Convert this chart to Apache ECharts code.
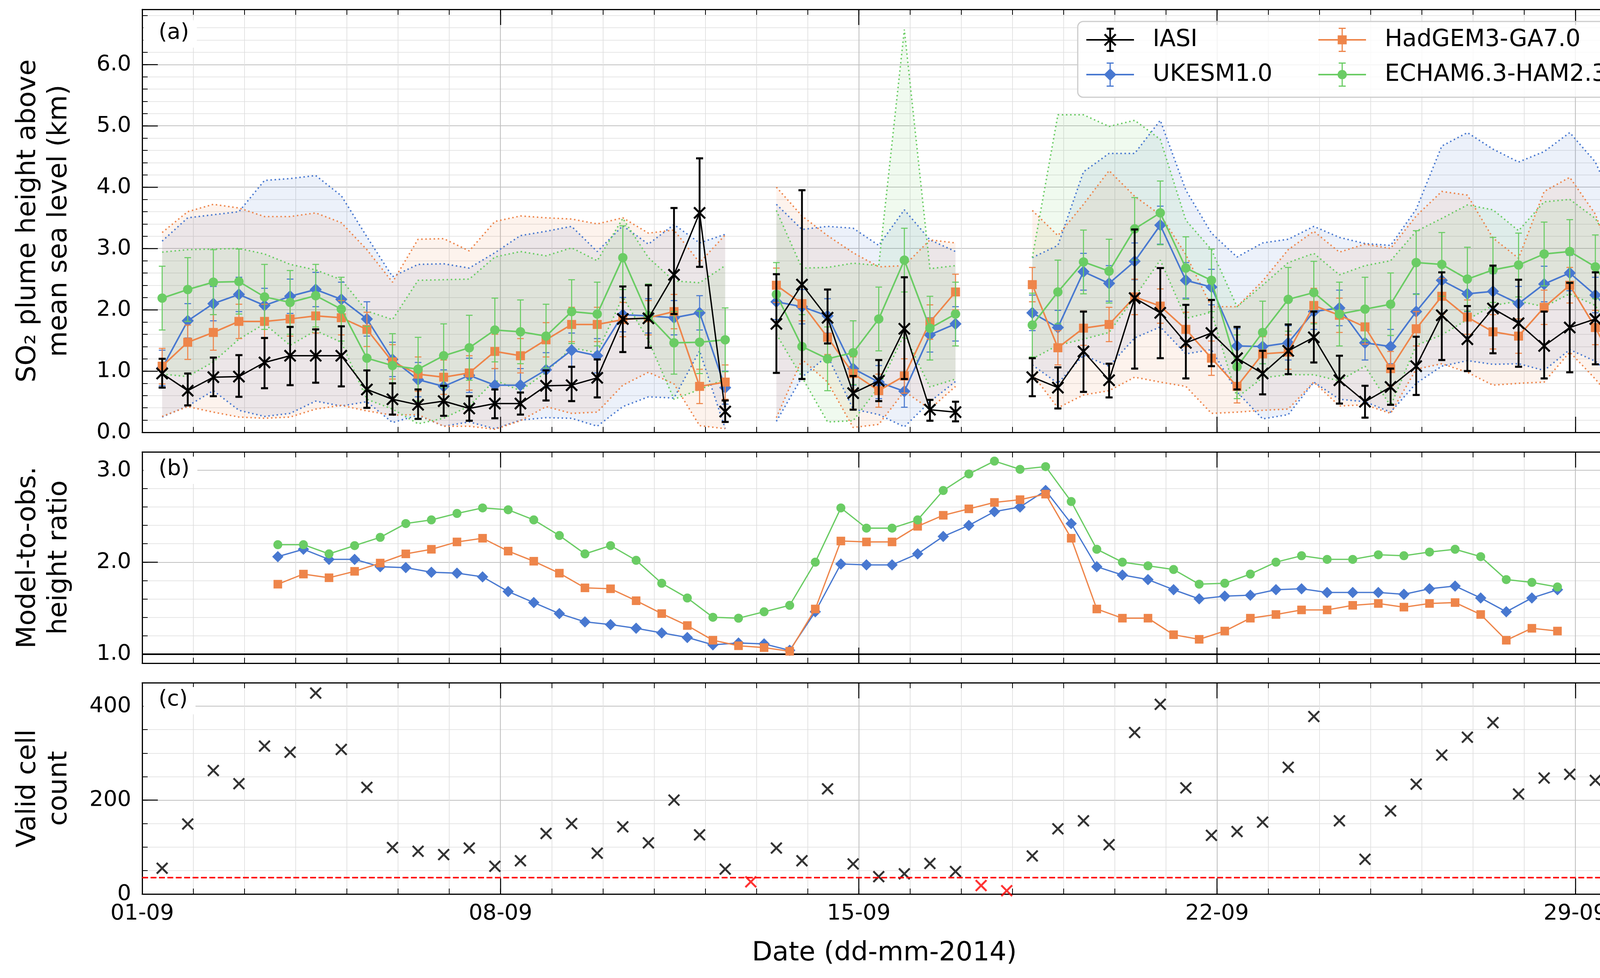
<!DOCTYPE html>
<html><head><meta charset="utf-8">
<script src="https://cdn.jsdelivr.net/npm/echarts@6/dist/echarts.min.js"></script>
<style>html,body{margin:0;padding:0;background:#fff;}#c{width:4202px;height:2504px;}</style>
</head><body><div id="c"></div>
<script>
// ---------------- DATA ----------------
// time of each IASI overpass, in days since 01-09-2014 00:00
const obsTimes = [0.39,0.89,1.39,1.89,2.39,2.89,3.39,3.89,4.39,4.89,5.39,5.89,6.39,6.89,7.39,7.89,8.39,8.89,9.39,9.89,
  10.39,10.89,11.39,11.89,12.39,12.89,13.39,13.89,14.39,14.89,15.39,15.89,16.39,16.89,17.39,17.89,18.39,18.89,19.39,19.89,
  20.39,20.89,21.39,21.89,22.39,22.89,23.39,23.89,24.39,24.89,25.39,25.89,26.39,26.89,27.39,27.89,28.39,28.89];
// times of the ratio points (panel b)
const ratioTimes = [2.65,3.15,3.65,4.15,4.65,5.15,5.65,6.15,6.65,7.15,7.65,8.15,8.65,9.15,9.65,10.15,10.65,11.15,11.65,12.15,
  12.65,13.15,13.65,14.15,14.65,15.15,15.65,16.15,16.65,17.15,17.65,18.15,18.65,19.15,19.65,20.15,20.65,21.15,21.65,22.15,
  22.65,23.15,23.65,24.15,24.65,25.15,25.65,26.15,26.65,27.15,27.65];
const tickLabels = ['01-09','08-09','15-09','22-09','29-09'];

// panel (a): IASI
const iasiHeight = [0.96,0.68,0.90,0.91,1.14,1.25,1.25,1.25,0.70,0.54, 0.45,0.51,0.39,0.47,0.47,0.76,0.77,0.89,1.85,1.86,
  2.57,3.58,0.34,null,1.77,2.41,1.87,0.64,0.84,1.69, 0.37,0.33,null,null,0.90,0.73,1.32,0.85,2.19,1.95,
  1.46,1.62,1.21,0.96,1.33,1.55,0.85,0.50,0.74,1.08, 1.91,1.52,2.02,1.78,1.41,1.71,1.85,1.38];
const iasiLow = [0.73,0.44,0.59,0.58,0.72,0.77,0.81,0.75,0.40,0.29, 0.22,0.27,0.19,0.23,0.29,0.52,0.51,0.57,1.31,1.38,
  1.93,2.70,0.17,null,0.97,0.87,1.45,0.37,0.51,0.87, 0.19,0.18,null,null,0.59,0.39,0.66,0.57,1.04,1.21,
  0.88,1.08,0.70,0.62,0.95,1.14,0.47,0.24,0.45,0.61, 1.18,1.00,1.29,1.07,0.88,0.98,1.11,0.06];
const iasiHigh = [1.20,0.96,1.22,1.26,1.54,1.72,1.68,1.73,1.01,0.80, 0.70,0.76,0.59,0.70,0.65,1.01,1.07,1.19,2.38,2.40,
  3.66,4.47,0.52,null,2.58,3.95,2.33,0.92,1.18,2.53, 0.53,0.50,null,null,1.21,1.06,1.97,1.12,3.31,2.68,
  2.08,2.16,1.72,1.33,1.76,1.97,1.25,0.76,1.04,1.56, 2.61,2.06,2.72,2.49,1.97,2.44,2.61,2.76];

// panel (a): UKESM1.0
const ukMean = [1.05,1.82,2.10,2.25,2.07,2.22,2.33,2.17,1.85,1.19, 0.86,0.75,0.93,0.77,0.77,1.02,1.34,1.25,1.92,1.90,
  1.87,1.95,0.73,null,2.13,2.05,1.90,1.04,0.82,0.67, 1.59,1.77,null,null,1.95,1.71,2.62,2.43,2.79,3.38,
  2.48,2.37,1.41,1.40,1.46,1.97,2.03,1.46,1.40,1.97, 2.48,2.26,2.30,2.10,2.42,2.60,2.24,1.78];
const ukErr = [0.29,0.28,0.28,0.28,0.28,0.28,0.28,0.28,0.28,0.28, 0.28,0.27,0.28,0.27,0.27,0.28,0.28,0.28,0.28,0.28,
  0.28,0.28,0.27,null,0.29,0.28,0.28,0.27,0.27,0.26, 0.28,0.28,null,null,0.29,0.28,0.30,0.29,0.30,0.31,
  0.29,0.29,0.28,0.28,0.28,0.29,0.29,0.28,0.28,0.29, 0.29,0.29,0.29,0.28,0.29,0.29,0.29,0.28];
const ukUpper = [3.12,3.50,3.55,3.60,4.11,4.14,4.19,3.86,3.19,2.54, 2.74,2.75,2.68,2.93,3.21,3.28,3.36,2.95,3.37,3.07,
  3.39,3.09,3.23,null,3.72,3.31,3.36,3.33,3.05,3.63, 3.14,2.95,null,null,2.85,3.05,4.25,4.55,4.55,5.09,
  3.95,3.25,2.86,3.09,3.15,3.36,3.18,3.08,3.05,3.64, 4.67,4.89,4.62,4.41,4.58,4.89,4.41,3.49];
const ukLower = [0.25,0.43,0.68,0.36,0.26,0.31,0.51,0.43,0.50,0.16, 0.28,0.10,0.17,0.06,0.20,0.24,0.23,0.10,0.42,0.58,
  0.56,1.33,0.06,null,0.18,0.90,1.25,0.38,0.29,0.09, 0.50,0.83,null,null,1.10,0.80,1.26,1.08,1.54,1.72,
  1.28,1.35,0.66,0.22,0.29,0.82,0.54,0.50,0.33,0.80, 1.08,1.17,1.11,1.12,1.01,1.35,1.16,0.80];

// panel (a): HadGEM3-GA7.0
const hadMean = [1.08,1.47,1.63,1.81,1.81,1.85,1.90,1.87,1.68,1.15, 0.95,0.90,0.97,1.32,1.25,1.51,1.76,1.76,1.84,1.87,
  1.97,0.75,0.82,null,2.40,2.10,1.55,0.96,0.68,0.92, 1.80,2.29,null,null,2.41,1.38,1.70,1.76,2.21,2.06,
  1.68,1.21,0.75,1.28,1.31,2.07,1.91,1.72,1.04,1.69, 2.22,1.88,1.64,1.57,2.04,2.40,1.71,0.91];
const hadErr = [0.29,0.28,0.29,0.28,0.28,0.28,0.28,0.28,0.28,0.28, 0.28,0.28,0.28,0.28,0.28,0.28,0.28,0.28,0.28,0.28,
  0.28,0.28,0.28,null,0.28,0.28,0.28,0.27,0.27,0.28, 0.28,0.29,null,null,0.28,0.28,0.28,0.28,0.29,0.28,
  0.28,0.28,0.27,0.28,0.28,0.28,0.28,0.28,0.28,0.28, 0.29,0.28,0.28,0.28,0.28,0.29,0.28,0.28];
const hadUpper = [3.26,3.60,3.72,3.66,3.52,3.52,3.58,3.42,2.98,2.45, 3.15,3.16,2.96,3.44,3.53,3.50,3.48,3.40,3.50,3.25,
  3.30,2.77,3.22,null,4.00,3.53,3.21,2.93,2.70,2.72, 3.14,3.09,null,null,3.62,3.21,3.72,4.27,3.85,3.55,
  2.90,2.05,2.05,2.47,2.98,3.28,2.94,3.07,3.00,3.53, 3.93,3.87,3.17,2.84,3.93,4.16,3.56,2.42];
const hadLower = [0.26,0.42,0.33,0.25,0.23,0.25,0.38,0.44,0.35,0.28, 0.29,0.10,0.10,0.05,0.19,0.42,0.31,0.33,0.77,0.98,
  0.79,0.11,0.06,null,0.24,1.19,0.82,0.08,0.13,0.67, 0.38,0.75,null,null,0.95,0.40,0.61,0.68,0.90,0.82,
  0.75,0.31,0.33,0.36,0.38,0.82,0.43,0.45,0.31,1.03, 1.12,0.98,0.77,0.80,0.82,1.31,0.87,0.38];

// panel (a): ECHAM6.3-HAM2.3
const echamMean = [2.19,2.33,2.45,2.46,2.21,2.12,2.23,2.01,1.21,1.09, 1.03,1.25,1.38,1.67,1.64,1.57,1.97,1.93,2.85,1.90,
  1.46,1.47,1.51,null,2.25,1.40,1.20,1.30,1.85,2.81, 1.70,1.93,null,null,1.75,2.29,2.78,2.63,3.32,3.58,
  2.68,2.48,1.07,1.63,2.17,2.28,1.93,2.01,2.09,2.77, 2.74,2.50,2.65,2.73,2.91,2.95,2.70,2.06];
const echamErr = [0.52,0.52,0.53,0.53,0.53,0.52,0.51,0.52,0.52,0.52, 0.52,0.52,0.53,0.52,0.52,0.52,0.52,0.52,0.52,0.52,
  0.51,0.51,0.52,null,0.52,0.52,0.52,0.52,0.52,0.52, 0.52,0.52,null,null,0.52,0.52,0.52,0.52,0.51,0.52,
  0.51,0.51,0.52,0.51,0.52,0.51,0.52,0.52,0.51,0.52, 0.52,0.52,0.53,0.52,0.52,0.52,0.52,0.52];
const echamUpper = [2.94,2.98,2.99,3.00,2.91,2.74,2.65,2.49,1.98,1.84, 2.48,2.49,2.50,2.86,2.95,2.88,3.01,2.80,3.49,2.85,
  2.47,2.44,2.72,null,3.62,2.68,2.69,2.76,2.72,6.57, 2.67,2.72,null,null,2.85,5.18,5.18,4.99,5.09,4.78,
  3.46,2.98,2.05,2.40,2.77,2.92,2.57,2.72,2.80,3.28, 3.49,3.71,3.63,3.29,3.76,3.80,3.49,2.79];
const echamLower = [0.95,0.91,1.15,1.52,1.77,1.42,1.66,1.47,0.54,0.38, 0.14,0.23,0.43,0.85,0.68,0.98,1.38,1.30,2.21,1.50,
  0.54,0.70,0.87,null,1.60,0.90,0.17,0.19,0.74,1.60, 0.74,0.87,null,null,1.20,1.42,1.52,1.63,2.21,2.81,
  1.86,1.96,0.57,0.89,0.94,0.94,0.84,1.08,0.43,1.42, 1.59,1.84,2.07,2.14,2.05,2.26,2.07,1.31];

// panel (b): model-to-obs height ratio
const ukRatio = [2.06,2.14,2.03,2.03,1.95,1.94,1.89,1.88,1.84,1.68, 1.56,1.44,1.35,1.32,1.28,1.23,1.18,1.10,1.12,1.11,
  1.04,1.46,1.98,1.97,1.97,2.09,2.28,2.40,2.55,2.60, 2.78,2.42,1.95,1.86,1.81,1.70,1.60,1.63,1.64,1.70,
  1.71,1.67,1.67,1.67,1.65,1.71,1.74,1.61,1.46,1.61, 1.70];
const hadRatio = [1.76,1.87,1.83,1.90,1.99,2.09,2.14,2.22,2.26,2.12, 2.01,1.88,1.72,1.71,1.58,1.44,1.31,1.15,1.09,1.07,
  1.03,1.49,2.23,2.22,2.22,2.39,2.51,2.58,2.65,2.68, 2.74,2.26,1.49,1.39,1.39,1.21,1.16,1.25,1.39,1.43,
  1.48,1.48,1.53,1.55,1.51,1.55,1.56,1.43,1.15,1.28, 1.25];
const echamRatio = [2.19,2.19,2.09,2.18,2.27,2.42,2.46,2.53,2.59,2.57, 2.46,2.29,2.09,2.18,2.02,1.77,1.61,1.40,1.39,1.46,
  1.53,2.00,2.59,2.37,2.37,2.46,2.78,2.96,3.10,3.01, 3.04,2.66,2.14,2.00,1.96,1.92,1.76,1.77,1.87,2.00,
  2.07,2.03,2.03,2.08,2.07,2.11,2.14,2.06,1.81,1.78, 1.73];

// panel (c): valid cell count
const cellCount = [55,149,263,235,315,302,428,308,227,99, 91,84,98,59,71,129,150,87,143,109,
  200,126,53,26,98,71,224,64,37,43, 65,48,18,7,81,139,156,105,344,404,
  226,125,133,153,270,378,156,74,177,234, 296,334,365,213,247,255,242,75];
const countThreshold = 35;

// ---------------- STYLE ----------------
const FONT = 'DejaVu Sans';
const COL = {iasi:'#000000', uk:'#4878d0', had:'#ee854a', echam:'#6acc64'};
function rgba(hex, a){ const n=parseInt(hex.slice(1),16); return `rgba(${n>>16},${(n>>8)&255},${n&255},${a})`; }

function rectP(x,y,w,h){ return `M${x},${y}L${x+w},${y}L${x+w},${y+h}L${x},${y+h}Z`; }
function xP(cx,cy,r,d){
  const p=[[cx-r+d,cy-r],[cx,cy-d],[cx+r-d,cy-r],[cx+r,cy-r+d],[cx+d,cy],[cx+r,cy+r-d],[cx+r-d,cy+r],[cx,cy+d],[cx-r+d,cy+r],[cx-r,cy+r-d],[cx-d,cy],[cx-r,cy-r+d]];
  return 'M'+p.map(q=>q[0].toFixed(2)+','+q[1].toFixed(2)).join('L')+'Z';
}
function circP(cx,cy,r,n){
  const p=[]; for(let i=0;i<n;i++){ const a=-Math.PI/2+2*Math.PI*i/n; p.push((cx+r*Math.cos(a)).toFixed(2)+','+(cy+r*Math.sin(a)).toFixed(2)); }
  return 'M'+p.join('L')+'Z';
}
const X_SYMBOL = 'path://' + xP(50,50,50,11.3);
function legendIcon(marker, barW, capT){
  return 'path://' + rectP(0,29,122,4) + rectP(61-barW/2,0,barW,62) + rectP(52,0,18,capT) + rectP(52,62-capT,18,capT) + marker;
}
const ICON_IASI = legendIcon(xP(61,31,16,3.6), 4.7, 5);
const ICON_UK = legendIcon('M61,15L77,31L61,47L45,31Z', 3, 3);
const ICON_HAD = legendIcon(rectP(49.5,19.5,23,23), 3, 3);
const ICON_ECHAM = legendIcon(circP(61,31,12,24), 3, 3);

// ---------------- AXES ----------------
const gridDefs = [
  {left:364, right:38, top:24, height:1083},
  {left:364, right:38, top:1157, height:541},
  {left:364, right:38, top:1748, height:541}
];
const yDefs = [
  {min:0, max:6.9, major:1, minor:0.2, dec:1, name:'SO\u2082 plume height above\nmean sea level (km)'},
  {min:0.9, max:3.2, major:1, minor:0.2, dec:1, name:'Model-to-obs.\nheight ratio'},
  {min:0, max:450, major:200, minor:50, dec:0, name:'Valid cell\ncount'}
];
const MAJ_GRID = '#c0c0c0', MIN_GRID = '#dedede';
const isMult = (v, step) => Math.abs(v/step - Math.round(v/step)) < 1e-6;

const xAxes = [], yAxes = [];
gridDefs.forEach((g, gi) => {
  const baseX = {type:'value', gridIndex:gi, min:0, max:29, axisLine:{show:false, onZero:false}, axisLabel:{show:false}, splitLine:{show:false}};
  xAxes.push(Object.assign({}, baseX, {position:'bottom', minInterval:1, maxInterval:1,
    axisTick:{show:true, inside:true, length:14, lineStyle:{color:'#000', width:2}},
    splitLine:{show:true, lineStyle:{color:MIN_GRID, width:1.7}}}));
  xAxes.push(Object.assign({}, baseX, {position:'bottom', minInterval:7, maxInterval:7,
    axisLine:{show:true, onZero:false, lineStyle:{color:'#000', width:3}},
    axisTick:{show:true, inside:true, length:40, lineStyle:{color:'#000', width:2.5}},
    splitLine:{show:true, lineStyle:{color:MAJ_GRID, width:2.2}},
    axisLabel: gi===2 ? {show:true, margin:22, fontSize:56, fontFamily:FONT, color:'#000', showMaxLabel:false,
      formatter: v => { const i=Math.round(v/7); return (isMult(v,7) && tickLabels[i]) ? tickLabels[i] : ''; }} : {show:false},
    name: gi===2 ? 'Date (dd-mm-2014)' : '', nameLocation:'middle', nameGap:118,
    nameTextStyle:{fontSize:68, fontFamily:FONT, color:'#000'}}));
  xAxes.push(Object.assign({}, baseX, {position:'top', minInterval:1, maxInterval:1,
    axisTick:{show:true, inside:true, length:14, lineStyle:{color:'#000', width:2}}}));
  xAxes.push(Object.assign({}, baseX, {position:'top', minInterval:7, maxInterval:7,
    axisLine:{show:true, onZero:false, lineStyle:{color:'#000', width:3}},
    axisTick:{show:true, inside:true, length:40, lineStyle:{color:'#000', width:2.5}}}));

  const y = yDefs[gi];
  const baseY = {type:'value', gridIndex:gi, min:y.min, max:y.max, axisLine:{show:false, onZero:false}, axisLabel:{show:false}, splitLine:{show:false}};
  yAxes.push(Object.assign({}, baseY, {position:'left', minInterval:y.minor, maxInterval:y.minor,
    axisTick:{show:true, inside:true, length:14, lineStyle:{color:'#000', width:2}},
    splitLine:{show:true, lineStyle:{color:MIN_GRID, width:1.7}}}));
  yAxes.push(Object.assign({}, baseY, {position:'left', minInterval:y.major, maxInterval:y.major,
    axisLine:{show:true, onZero:false, lineStyle:{color:'#000', width:3}},
    axisTick:{show:true, inside:true, length:40, lineStyle:{color:'#000', width:2.5}},
    splitLine:{show:true, lineStyle:{color:MAJ_GRID, width:2.2}},
    axisLabel:{show:true, margin:28, fontSize:56, fontFamily:FONT, color:'#000', showMinLabel: y.min===0, showMaxLabel:false,
      formatter: v => isMult(v, y.major) ? v.toFixed(y.dec) : ''},
    name:y.name, nameLocation:'middle', nameRotate:90, nameGap:172,
    nameTextStyle:{fontSize:68, fontFamily:FONT, color:'#000', lineHeight:80}}));
  yAxes.push(Object.assign({}, baseY, {position:'right', minInterval:y.minor, maxInterval:y.minor,
    axisTick:{show:true, inside:true, length:14, lineStyle:{color:'#000', width:2}}}));
  yAxes.push(Object.assign({}, baseY, {position:'right', minInterval:y.major, maxInterval:y.major,
    axisLine:{show:true, onZero:false, lineStyle:{color:'#000', width:3}},
    axisTick:{show:true, inside:true, length:40, lineStyle:{color:'#000', width:2.5}}}));
});
const AX = gi => ({xAxisIndex:4*gi+1, yAxisIndex:4*gi+1});

// ---------------- SERIES ----------------
const pairs = (times, vals) => times.map((t,i) => [t, vals[i]==null ? '-' : vals[i]]);
function segments(vals){
  const s=[]; let st=null;
  vals.forEach((v,i)=>{
    if(v!=null && st===null) st=i;
    if(st!==null && (v==null || i===vals.length-1)){ s.push([st, v==null ? i-1 : i]); st=null; }
  });
  return s;
}
function bandSeries(up, lo, color){
  return Object.assign({type:'custom', z:1, silent:true, data:segments(up), encode:{x:0, y:1},
    renderItem:(p, api)=>{
      const s=api.value(0), e=api.value(1), pts=[];
      for(let k=s;k<=e;k++) pts.push(api.coord([obsTimes[k], up[k]]));
      for(let k=e;k>=s;k--) pts.push(api.coord([obsTimes[k], lo[k]]));
      return {type:'polygon', shape:{points:pts}, style:{fill:rgba(color,0.1)}};
    }}, AX(0));
}
function dottedSeries(vals, color){
  return Object.assign({type:'line', z:2, silent:true, data:pairs(obsTimes, vals), symbol:'none', showSymbol:false,
    connectNulls:false, lineStyle:{color, width:3.7, type:[3.7,6.9], cap:'butt'}}, AX(0));
}
function errSeries(lo, hi, color, lw, capW, capLw, z){
  const data=[]; obsTimes.forEach((t,k)=>{ if(lo[k]!=null && hi[k]!=null) data.push([t, lo[k], hi[k]]); });
  return Object.assign({type:'custom', z, silent:true, data, encode:{x:0, y:[1,2]},
    renderItem:(p, api)=>{
      const a=api.coord([api.value(0), api.value(1)]), b=api.coord([api.value(0), api.value(2)]);
      const st={stroke:color, lineWidth:lw}, cs={stroke:color, lineWidth:capLw};
      return {type:'group', children:[
        {type:'line', shape:{x1:a[0], y1:a[1], x2:b[0], y2:b[1]}, style:st},
        {type:'line', shape:{x1:a[0]-capW/2, y1:a[1], x2:a[0]+capW/2, y2:a[1]}, style:cs},
        {type:'line', shape:{x1:b[0]-capW/2, y1:b[1], x2:b[0]+capW/2, y2:b[1]}, style:cs}
      ]};
    }}, AX(0));
}
const lowOf = (m, e) => m.map((v,i)=> v==null ? null : v - e[i]);
const highOf = (m, e) => m.map((v,i)=> v==null ? null : v + e[i]);
function mainLine(name, vals, color, symbol, size, width, z){
  return Object.assign({name, type:'line', z, silent:true, data:pairs(obsTimes, vals), connectNulls:false,
    symbol, symbolSize:size, showSymbol:true, lineStyle:{color, width}, itemStyle:{color, borderWidth:0}}, AX(0));
}
function ratioLine(name, vals, color, symbol, size, z, extra){
  return Object.assign({name, type:'line', z, silent:true, data:pairs(ratioTimes, vals),
    symbol, symbolSize:size, showSymbol:true, lineStyle:{color, width:3.3}, itemStyle:{color, borderWidth:0}}, AX(1), extra||{});
}

const series = [
  bandSeries(ukUpper, ukLower, COL.uk),
  bandSeries(hadUpper, hadLower, COL.had),
  bandSeries(echamUpper, echamLower, COL.echam),
  dottedSeries(ukUpper, COL.uk), dottedSeries(ukLower, COL.uk),
  dottedSeries(hadUpper, COL.had), dottedSeries(hadLower, COL.had),
  dottedSeries(echamUpper, COL.echam), dottedSeries(echamLower, COL.echam),
  errSeries(lowOf(ukMean,ukErr), highOf(ukMean,ukErr), COL.uk, 2.7, 17, 2.7, 3),
  mainLine('UKESM1.0', ukMean, COL.uk, 'diamond', 31, 4, 4),
  errSeries(lowOf(hadMean,hadErr), highOf(hadMean,hadErr), COL.had, 2.7, 17, 2.7, 5),
  mainLine('HadGEM3-GA7.0', hadMean, COL.had, 'rect', 23, 4, 6),
  errSeries(lowOf(echamMean,echamErr), highOf(echamMean,echamErr), COL.echam, 2.7, 17, 2.7, 7),
  mainLine('ECHAM6.3-HAM2.3', echamMean, COL.echam, 'circle', 24, 4, 8),
  errSeries(iasiLow, iasiHigh, COL.iasi, 4.7, 18, 5.3, 9),
  mainLine('IASI', iasiHeight, COL.iasi, X_SYMBOL, 32, 3.5, 10),

  ratioLine('UKESM1.0 ratio', ukRatio, COL.uk, 'diamond', 29, 4, {markLine:{silent:true, symbol:['none','none'], animation:false,
    label:{show:false}, lineStyle:{color:'#000', width:4, type:'solid'}, data:[{yAxis:1}]}}),
  ratioLine('HadGEM3-GA7.0 ratio', hadRatio, COL.had, 'rect', 22, 5),
  ratioLine('ECHAM6.3-HAM2.3 ratio', echamRatio, COL.echam, 'circle', 23, 6),

  Object.assign({name:'Valid cell count', type:'scatter', z:4, silent:true,
    data: obsTimes.map((t,i)=>[t, cellCount[i]]),
    symbol: X_SYMBOL, symbolSize: 31,
    itemStyle:{color: p => p.value[1] < countThreshold ? '#ff0000' : '#000000'},
    markLine:{silent:true, symbol:['none','none'], animation:false, label:{show:false},
      lineStyle:{color:'#ff0000', width:4, type:[15,6.5]}, data:[{yAxis:countThreshold}]}}, AX(2))
];

// ---------------- OPTION ----------------
const legendText = {fontFamily:FONT, fontSize:60, color:'#000', padding:[0,0,0,43], lineHeight:62};
const option = {
  animation:false,
  backgroundColor:'#ffffff',
  grid: gridDefs.map(g => Object.assign({show:false, containLabel:false}, g)),
  xAxis: xAxes,
  yAxis: yAxes,
  title: [
    {text:'(a)', left:367, top:52},
    {text:'(b)', left:367, top:1169},
    {text:'(c)', left:367, top:1759}
  ].map(t => Object.assign(t, {padding:[4,20,10,39], backgroundColor:'#ffffff', z:3,
    textStyle:{fontFamily:FONT, fontSize:56, fontWeight:'normal', color:'#000', lineHeight:56}})),
  graphic: [{type:'rect', z:20, silent:true, shape:{x:2759, y:55, width:1375, height:194, r:14},
    style:{fill:'rgba(255,255,255,0.8)', stroke:'#cccccc', lineWidth:3}}],
  legend: [
    {left:2781, top:71, orient:'vertical', itemWidth:122, itemHeight:62, itemGap:27, padding:0, selectedMode:false, z:30,
      itemStyle:{borderWidth:0}, textStyle:legendText,
      data:[{name:'IASI', icon:ICON_IASI}, {name:'UKESM1.0', icon:ICON_UK}]},
    {left:3375, top:71, orient:'vertical', itemWidth:122, itemHeight:62, itemGap:27, padding:0, selectedMode:false, z:30,
      itemStyle:{borderWidth:0}, textStyle:legendText,
      data:[{name:'HadGEM3-GA7.0', icon:ICON_HAD}, {name:'ECHAM6.3-HAM2.3', icon:ICON_ECHAM}]}
  ],
  series
};
const chart = echarts.init(document.getElementById('c'), null, {renderer:'canvas', width:4202, height:2504});
chart.setOption(option);
</script></body></html>
